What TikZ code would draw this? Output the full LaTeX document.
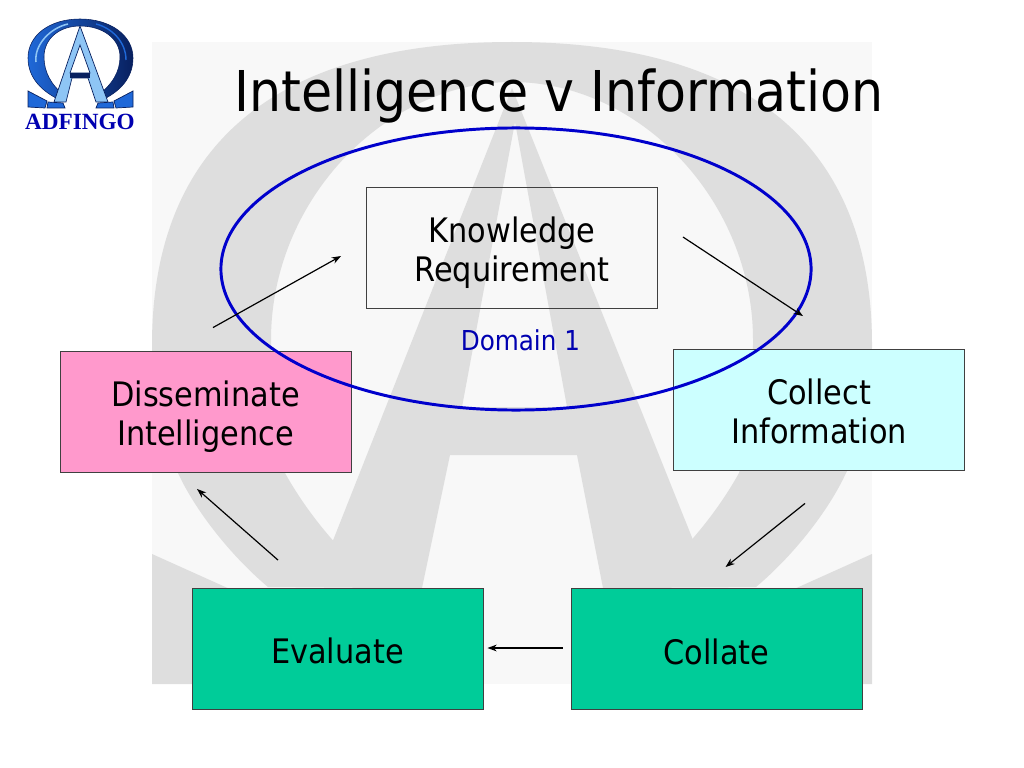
\documentclass[tikz,border=0pt]{standalone}
\usepackage{fontspec}
\setmainfont{DejaVu Sans Condensed}
\newfontfamily\logofont{Liberation Serif}
\usetikzlibrary{shapes,arrows,arrows.meta,positioning,calc}
\definecolor{panelgray}{HTML}{F8F8F8}
\definecolor{markgray}{HTML}{DEDEDE}
\definecolor{ringblue}{HTML}{0000CC}
\definecolor{labelblue}{HTML}{0000B0}
\definecolor{boxpink}{HTML}{FF99CC}
\definecolor{boxcyan}{HTML}{CCFFFF}
\definecolor{boxgreen}{HTML}{00CC99}
\definecolor{logodark}{HTML}{08205F}
\definecolor{logomid}{HTML}{1F68D8}
\definecolor{logolight}{HTML}{8EC5F5}
\newcommand{\topstrut}[1]{\rule{0pt}{#1}}

\begin{document}
\begin{tikzpicture}[x=0.025cm, y=-0.025cm,
    stepbox/.style={rectangle, draw=black!75, line width=0.6pt, minimum width=7.275cm, minimum height=3.025cm, align=center, font=\fontsize{24}{28}\selectfont},
    arrow/.style={line width=0.85pt, -{Stealth[length=6.6pt, width=4.8pt]}},
    logotip/.style={fill=logomid, draw=logodark, line width=0.5pt}]

    \useasboundingbox (0,0) rectangle (1024,768);

    % watermark
    \fill[panelgray] (152,42) rectangle (872,684);
    \begin{scope}
    \clip (152,42) rectangle (872,684);
    \foreach \s in {1,-1} {
        \begin{scope}[shift={(512,0)}, xscale=\s]
        \fill[markgray] (0,42) .. controls (-242,42) and (-360,150) .. (-360,345)
            .. controls (-360,400) and (-352,440) .. (-334,473)
            .. controls (-317,510) and (-282,555) .. (-244,587) -- (-130,588)
            .. controls (-182,545) and (-212,500) .. (-227,473)
            .. controls (-237,440) and (-241,390) .. (-241,340)
            .. controls (-241,200) and (-127,82) .. (0,82) -- cycle;
        \fill[markgray] (-360,554) -- (-280,590) -- (-280,684) -- (-360,684) -- cycle;
        \end{scope}
    }
    \fill[markgray, even odd rule] (512,88) -- (332,543) .. controls (345,560) and (362,575) .. (380,588)
        -- (422,588) -- (450,455) -- (577,455) -- (603,588) -- (645,588)
        .. controls (663,575) and (680,560) .. (693,540) -- cycle
        (515,122) -- (462,407) -- (567,407) -- cycle;
    \end{scope}

    % logo
    \shade[left color=logomid, right color=logodark, draw=logodark, line width=0.4pt] (80,19) .. controls (50,19) and (28,35) .. (28,58)
        .. controls (28,78) and (42,92) .. (62,101) -- (65,96) .. controls (51,85) and (44,72) .. (44,57)
        .. controls (44,38) and (60,26) .. (80,26) .. controls (102,26) and (120,38) .. (120,57)
        .. controls (120,72) and (112,85) .. (97,96) -- (100,101)
        .. controls (120,92) and (133,78) .. (133,58) .. controls (133,35) and (110,19) .. (80,19) -- cycle;
    \draw[logolight, line width=1.1pt] (36,62) .. controls (34,45) and (50,28) .. (68,24);
    \draw[logomid, line width=1pt] (126,60) .. controls (126,42) and (112,28) .. (96,24);
    \fill[logolight, draw=logodark, line width=0.5pt, even odd rule] (80,26) -- (108,102) -- (96,102) -- (88,78) -- (72,78)
        -- (66,102) -- (54,102) -- cycle (80,45) -- (70,73) -- (90,73) -- cycle;
    \fill[logodark] (70,73) rectangle (90,78);
    \foreach \s in {1,-1} {
        \begin{scope}[shift={(80.5,0)}, xscale=\s]
        \draw[logotip] (-52.5,91) -- (-52.5,107) -- (-35.5,108) -- (-33.5,101) -- cycle;
        \draw[logotip] (-32.5,102) -- (-17.5,103) -- (-15.5,108) -- (-33.5,108) -- cycle;
        \end{scope}
    }
    \node[text=labelblue, font=\logofont\bfseries\fontsize{16.5}{16.5}\selectfont] (logotext) at (80,122) {ADFINGO};

    \node[font=\fontsize{40}{40}\selectfont, anchor=base] (title) at (559,112) {Intelligence v Information};

    \node[stepbox] (know) at (512,247.5) {\topstrut{25.2pt}Knowledge\\Requirement};
    \node[stepbox, fill=boxpink] (dissem) at (205.5,411.5) {\topstrut{25.2pt}Disseminate\\Intelligence};
    \node[stepbox, fill=boxcyan] (collect) at (819,409.5) {\topstrut{21pt}Collect\\Information};
    \node[stepbox, fill=boxgreen] (evaluate) at (337.5,648.5) {\topstrut{21pt}Evaluate};
    \node[stepbox, fill=boxgreen] (collate) at (716.5,648.5) {\topstrut{22.4pt}Collate};
    \node[text=labelblue, font=\fontsize{19.5}{19.5}\selectfont, below=0.4cm of know, xshift=0.21cm] (domain) {Domain 1};

    \node[ellipse, draw=ringblue, line width=2.1pt, minimum width=14.75cm, minimum height=7.05cm, inner sep=0pt] (ring) at (516,269) {};

    \draw[arrow] ($(know.east)+(25,-10.5)$) -- ($(collect.north)+(-16,-32.5)$);
    \draw[arrow] ($(collect.south)+(-14,33)$) -- ($(collate.north)+(9,-20.5)$);
    \draw[arrow] ($(collate.west)+(-8,-0.5)$) -- ($(evaluate.east)+(4,-0.5)$);
    \draw[arrow] ($(evaluate.north)+(-59.5,-27.5)$) -- ($(dissem.south)+(-8.5,16.5)$);
    \draw[arrow] ($(dissem.north)+(7.5,-23)$) -- ($(know.west)+(-25,8.5)$);

\end{tikzpicture}
\end{document}
